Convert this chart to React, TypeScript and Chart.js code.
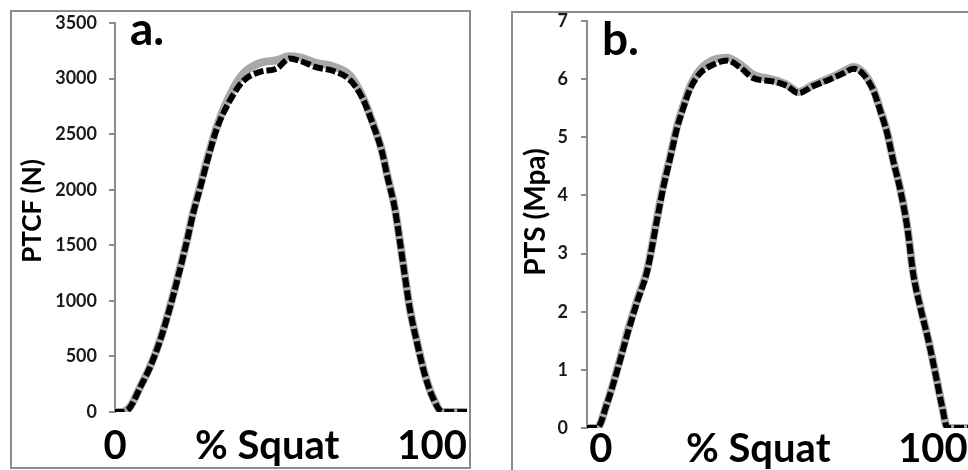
import React, { useEffect, useRef } from "react";
import { Chart, registerables } from "chart.js";

Chart.register(...registerables);

const FONT = "Lato, 'Open Sans', sans-serif";

// ---- Panel a: PTCF (N) ----
const aX = [0, 2.2, 4.7, 8, 11, 14.2, 17.3, 19.8, 22.7, 24.6, 26.8, 29.3, 32.1, 36.2, 40.3, 45.7, 51, 55.1, 58.3, 63.6, 68.7, 74, 78.1, 81.3, 84.1, 86, 88.2, 89.8, 91.3, 92.9, 95.1, 97.6, 100.2, 103.3, 111];
const aGray = [0, 0, 45, 230, 405, 648, 945, 1215, 1548, 1791, 2025, 2295, 2565, 2850, 3040, 3140, 3165, 3200, 3190, 3140, 3110, 3030, 2835, 2601, 2358, 2115, 1845, 1548, 1251, 945, 648, 351, 135, 0, 0];
const aBlack = [0, 0, 40, 225, 400, 640, 935, 1205, 1540, 1780, 2010, 2280, 2550, 2800, 2975, 3060, 3090, 3180, 3160, 3100, 3070, 2990, 2820, 2590, 2350, 2105, 1835, 1540, 1245, 940, 640, 345, 130, 0, 0];
const aTickValues = [0, 48, 100];
const aTickLabels = ["0", "% Squat", "100"];

// ---- Panel b: PTS (Mpa) ----
const bX = [0, 2.9, 5.8, 8.7, 11.6, 14.5, 17.4, 20.3, 22.0, 24.0, 26.0, 27.8, 29.8, 32.7, 36.5, 40.5, 44.3, 48.0, 53.8, 57.9, 61.1, 65.4, 70.3, 74.1, 77.0, 79.9, 82.8, 84.8, 86.8, 88.5, 90.6, 92.6, 94.3, 96.4, 98.7, 100.7, 102.7, 104.2, 111];
const bGray = [0, 0, 0.43, 1.0, 1.63, 2.2, 2.72, 3.63, 4.15, 4.66, 5.18, 5.53, 5.87, 6.16, 6.33, 6.37, 6.25, 6.08, 5.99, 5.90, 5.78, 5.90, 6.02, 6.13, 6.21, 6.11, 5.82, 5.47, 5.08, 4.61, 4.10, 3.46, 2.67, 2.08, 1.51, 0.95, 0.36, 0, 0];
const bBlack = [0, 0, 0.42, 0.98, 1.6, 2.17, 2.7, 3.6, 4.12, 4.63, 5.15, 5.5, 5.83, 6.1, 6.25, 6.32, 6.2, 6.02, 5.96, 5.88, 5.76, 5.88, 6.0, 6.1, 6.18, 6.08, 5.8, 5.45, 5.06, 4.6, 4.08, 3.44, 2.65, 2.06, 1.5, 0.94, 0.35, 0, 0];
const bTickValues = [4, 49.5, 100];
const bTickLabels = ["0", "% Squat", "100"];

type PanelProps = {
  xs: number[];
  gray: number[];
  black: number[];
  tickValues: number[];
  tickLabels: string[];
  yMax: number;
  yStep: number;
  yTitle: string;
  yTitleSize: number;
  yTitlePos: { x: number; y: number };
  letter: string;
  box: { left: number; top: number; w: number; h: number };
  area: { top: number; right: number; yW: number; xH: number };
  letterPos: { x: number; y: number };
  yTickPad: number;
  xTickPad: number;
};

function Panel(p: PanelProps) {
  const ref = useRef<HTMLCanvasElement | null>(null);
  useEffect(() => {
    if (!ref.current) return;
    const textPlugin = {
      id: "panelText",
      afterDraw(chart: any) {
        const ctx = chart.ctx;
        ctx.save();
        ctx.font = `bold 46px ${FONT}`;
        ctx.fillStyle = "#000";
        ctx.textBaseline = "alphabetic";
        ctx.textAlign = "left";
        ctx.fillText(p.letter, p.letterPos.x, p.letterPos.y);
        ctx.restore();

        ctx.save();
        ctx.translate(p.yTitlePos.x, p.yTitlePos.y);
        ctx.rotate(-Math.PI / 2);
        ctx.font = `bold ${p.yTitleSize}px ${FONT}`;
        ctx.fillStyle = "#000";
        ctx.textAlign = "center";
        ctx.textBaseline = "middle";
        ctx.fillText(p.yTitle, 0, 0);
        ctx.restore();
      },
    };
    const chart = new Chart(ref.current, {
      type: "line",
      data: {
        datasets: [
          {
            label: "dashed",
            data: p.xs.map((x, i) => ({ x, y: p.black[i] })),
            borderColor: "#000000",
            borderWidth: 6,
            borderDash: [10, 3],
            pointRadius: 0,
            cubicInterpolationMode: "monotone",
            fill: false,
            order: 0,
          },
          {
            label: "solid",
            data: p.xs.map((x, i) => ({ x, y: p.gray[i] })),
            borderColor: "#a8a8a8",
            borderWidth: 8,
            pointRadius: 0,
            cubicInterpolationMode: "monotone",
            fill: false,
            order: 1,
          },
        ],
      },
      options: {
        responsive: false,
        animation: false,
        layout: { padding: { top: p.area.top, right: p.area.right, left: 0, bottom: 0 } },
        plugins: { legend: { display: false }, tooltip: { enabled: false } },
        scales: {
          x: {
            type: "linear",
            min: 0,
            max: 111,
            grid: { display: false, drawTicks: false },
            border: { display: false },
            afterBuildTicks: (scale: any) => {
              scale.ticks = p.tickValues.map((v) => ({ value: v }));
            },
            afterFit: (scale: any) => {
              scale.height = p.area.xH;
              scale.paddingLeft = 0;
              scale.paddingRight = 0;
            },
            ticks: {
              autoSkip: false,
              maxRotation: 0,
              padding: p.xTickPad,
              color: "#000",
              font: { family: FONT, size: 40, weight: "bold" },
              callback: (v: any) => {
                const idx = p.tickValues.indexOf(Number(v));
                return idx >= 0 ? p.tickLabels[idx] : "";
              },
            },
          },
          y: {
            type: "linear",
            min: 0,
            max: p.yMax,
            grid: { display: true, drawOnChartArea: false, drawTicks: true, tickLength: 6, color: "#8c8c8c", lineWidth: 2 },
            border: { display: true, color: "#8c8c8c", width: 2 },
            afterFit: (scale: any) => {
              scale.width = p.area.yW;
              scale.paddingTop = 0;
              scale.paddingBottom = 0;
            },
            ticks: {
              stepSize: p.yStep,
              padding: p.yTickPad,
              color: "#1a1a1a",
              font: { family: FONT, size: 18, weight: "bold" },
              callback: (v: any) => String(v),
            },
            title: { display: false },
          },
        },
      },
      plugins: [textPlugin],
    });
    return () => chart.destroy();
  }, []);
  return (
    <div
      style={{
        position: "absolute",
        left: p.box.left,
        top: p.box.top,
        width: p.box.w,
        height: p.box.h,
        border: "2px solid #8c8c8c",
        background: "#fff",
      }}
    >
      <canvas ref={ref} width={p.box.w} height={p.box.h} style={{ display: "block", width: p.box.w, height: p.box.h }} />
    </div>
  );
}

export default function App() {
  return (
    <div style={{ position: "absolute", left: 0, top: 0, width: 968, height: 470, overflow: "hidden", background: "#fff" }}>
      <Panel
        xs={aX}
        gray={aGray}
        black={aBlack}
        tickValues={aTickValues}
        tickLabels={aTickLabels}
        yMax={3500}
        yStep={500}
        yTitle="PTCF (N)"
        yTitleSize={26}
        yTitlePos={{ x: 21, y: 199 }}
        letter="a."
        box={{ left: 10, top: 10, w: 457, h: 455 }}
        area={{ top: 11, right: 2, yW: 103, xH: 55 }}
        letterPos={{ x: 118, y: 33 }}
        yTickPad={12}
        xTickPad={10}
      />
      <Panel
        xs={bX}
        gray={bGray}
        black={bBlack}
        tickValues={bTickValues}
        tickLabels={bTickLabels}
        yMax={7}
        yStep={1}
        yTitle="PTS (Mpa)"
        yTitleSize={28}
        yTitlePos={{ x: 23, y: 199 }}
        letter="b."
        box={{ left: 511, top: 11, w: 480, h: 470 }}
        area={{ top: 8, right: 22, yW: 74, xH: 55 }}
        letterPos={{ x: 89, y: 42 }}
        yTickPad={13}
        xTickPad={-3}
      />
    </div>
  );
}
